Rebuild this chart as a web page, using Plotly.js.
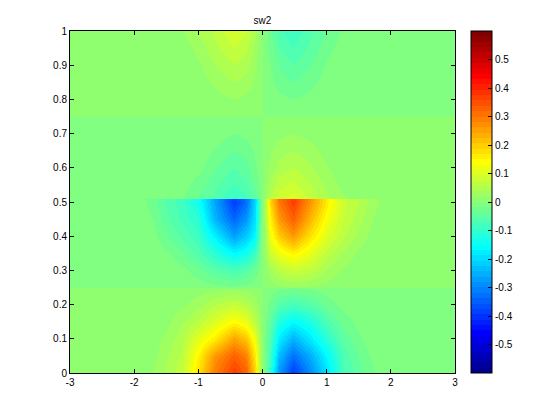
<!DOCTYPE html>
<html>
<head>
<meta charset="utf-8">
<script src="https://cdn.plot.ly/plotly-3.0.1.min.js"></script>
<style>html,body{margin:0;padding:0;background:#fff}</style>
</head>
<body>
<div id="chart" style="width:560px;height:419px"></div>
<script>
const titleText = 'sw2';
const xValues = [-3,-1.85,-1.7,-1.5,-1.25,-1,-0.75,-0.45,-0.25,-0.12,-0.02,0.02,0.12,0.25,0.47,0.75,1,1.25,1.5,1.7,1.85,3];
const yValues = [0,0.05,0.1,0.15,0.2,0.2499,0.2501,0.3,0.35,0.4,0.45,0.5,0.5079,0.5081,0.55,0.6,0.65,0.7,0.7499,0.7501,0.8,0.85,0.9,0.95,1];
const row000 = [.005,.005,.02,.04,.07,.17,.29,.37,.33,.19,.02,-.01,-.1,-.28,-.39,-.29,-.19,-.08,-.045,-.025,-.005,-.005];
const row005 = [.005,.005,.012,.035,.06,.15,.26,.33,.29,.16,.02,-.01,-.08,-.24,-.33,-.25,-.16,-.07,-.035,-.015,-.005,-.005];
const row010 = [.005,.005,.007,.025,.05,.11,.16,.25,.21,.12,.02,-.01,-.065,-.18,-.25,-.18,-.11,-.05,-.022,-.008,-.005,-.005];
const row015 = [.005,.005,.005,.012,.035,.06,.1,.145,.12,.06,.015,-.008,-.045,-.125,-.165,-.125,-.07,-.03,-.012,-.005,-.005,-.005];
const row020 = [.005,.005,.005,.007,.015,.03,.055,.075,.055,.03,.01,-.005,-.025,-.06,-.08,-.06,-.03,-.012,-.005,-.005,-.005,-.005];
const row025a = [.005,.005,.005,.005,.005,.008,.012,.015,.012,.008,.006,-.005,-.008,-.015,-.02,-.015,-.008,-.005,-.005,-.005,-.005,-.005];
const row025b = [-.005,-.005,-.005,-.005,-.005,-.007,-.012,-.018,-.012,-.008,-.005,.005,.008,.014,.02,.015,.01,.006,.005,.005,.005,.005];
const row030 = [-.005,-.005,-.005,-.006,-.012,-.03,-.055,-.075,-.06,-.03,-.008,.008,.03,.06,.08,.065,.035,.016,.007,.005,.005,.005];
const row035 = [-.005,-.005,-.006,-.014,-.035,-.065,-.11,-.165,-.14,-.09,-.012,.012,.08,.12,.155,.11,.065,.035,.014,.006,.005,.005];
const row040 = [-.005,-.005,-.012,-.035,-.06,-.09,-.17,-.27,-.22,-.16,-.015,.015,.12,.2,.26,.17,.1,.06,.03,.012,.005,.005];
const row045 = [-.005,-.007,-.02,-.05,-.08,-.11,-.24,-.34,-.28,-.19,-.02,.02,.15,.26,.33,.22,.13,.075,.045,.02,.007,.005];
const row050a = [-.005,-.015,-.03,-.06,-.085,-.14,-.26,-.39,-.33,-.2,-.02,.02,.18,.3,.37,.26,.16,.08,.055,.03,.015,.005];
const row050b = [-.005,-.015,-.03,-.06,-.085,-.14,-.26,-.39,-.33,-.2,-.02,.02,.18,.3,.37,.26,.16,.08,.055,.03,.015,.005];
const row050c = [-.005,-.005,-.005,-.008,-.018,-.0375,-.06,-.1,-.08,-.05,-.01,.01,.06,.085,.105,.07,.042,.022,.005,.005,.005,.005];
const row055 = [-.005,-.005,-.005,-.005,-.01,-.028,-.05,-.077,-.06,-.035,-.008,.008,.04,.07,.08,.055,.032,.012,.005,.005,.005,.005];
const row060 = [-.005,-.005,-.005,-.005,-.005,-.012,-.035,-.056,-.045,-.022,-.006,.006,.025,.045,.058,.04,.02,.005,.005,.005,.005,.005];
const row065 = [-.005,-.005,-.005,-.005,-.005,-.005,-.02,-.038,-.03,-.015,-.005,.005,.015,.03,.038,.027,.01,.005,.005,.005,.005,.005];
const row070 = [-.005,-.005,-.005,-.005,-.005,-.005,-.008,-.019,-.014,-.008,-.005,.005,.008,.014,.019,.012,.005,.005,.005,.005,.005,.005];
const row075a = [-.005,-.005,-.005,-.005,-.005,-.005,-.005,-.005,-.005,-.005,-.005,.005,.005,.005,.005,.005,.005,.005,.005,.005,.005,.005];
const row075b = [.005,.005,.005,.005,.005,.005,.005,.005,.005,.005,.005,-.005,-.005,-.005,-.005,-.005,-.005,-.005,-.005,-.005,-.005,-.005];
const row080 = [.005,.005,.005,.005,.005,.005,.01,.019,.014,.008,.005,-.005,-.007,-.013,-.019,-.012,-.005,-.005,-.005,-.005,-.005,-.005];
const row085 = [.005,.005,.005,.005,.005,.007,.022,.038,.03,.015,.005,-.005,-.013,-.028,-.038,-.025,-.009,-.005,-.005,-.005,-.005,-.005];
const row090 = [.005,.005,.005,.005,.005,.015,.035,.056,.045,.022,.005,-.005,-.018,-.04,-.056,-.038,-.016,-.005,-.005,-.005,-.005,-.005];
const row095 = [.005,.005,.005,.005,.008,.025,.05,.075,.06,.03,.005,-.005,-.025,-.055,-.075,-.05,-.025,-.01,-.005,-.005,-.005,-.005];
const row100 = [.005,.005,.005,.005,.017,.038,.06,.095,.075,.04,.005,-.005,-.03,-.07,-.09,-.06,-.035,-.015,-.005,-.005,-.005,-.005];
const zRows = [row000,row005,row010,row015,row020,row025a,row025b,row030,row035,row040,row045,row050a,row050b,row050c,row055,row060,row065,row070,row075a,row075b,row080,row085,row090,row095,row100];
const xTicks = [-3,-2,-1,0,1,2,3];
const xTickText = ['-3','-2','-1','0','1','2','3'];
const yTicks = [0,0.1,0.2,0.3,0.4,0.5,0.6,0.7,0.8,0.9,1];
const yTickText = ['0','0.1','0.2','0.3','0.4','0.5','0.6','0.7','0.8','0.9','1'];
const barTicks = [-0.5,-0.4,-0.3,-0.2,-0.1,0,0.1,0.2,0.3,0.4,0.5];
const barTickText = ['-0.5','-0.4','-0.3','-0.2','-0.1','0','0.1','0.2','0.3','0.4','0.5'];
const zMin = -0.6, zMax = 0.6;

// MATLAB jet(64) as a stepped colour scale
function jetStep(i){
  const v = (i+1)/16;
  const clamp = t => Math.max(0,Math.min(1,t));
  const r = clamp(Math.min(v-1.5, 4.5-v));
  const g = clamp(Math.min(v-0.5, 3.5-v));
  const b = clamp(Math.min(v+0.5, 2.5-v));
  return 'rgb('+Math.round(r*255)+','+Math.round(g*255)+','+Math.round(b*255)+')';
}
const jetScale = [];
for(let i=0;i<64;i++){
  jetScale.push([i/64, jetStep(i)]);
  jetScale.push([(i+1)/64, jetStep(i)]);
}

const font = {family:'"Liberation Sans", Arial, sans-serif', size:10, color:'#000'};
const axisBase = {showgrid:false, zeroline:false, showline:true, linecolor:'#000', linewidth:1,
  mirror:'ticks', ticks:'inside', ticklen:4, tickcolor:'#000', tickwidth:1, tickfont:font};

const trace = {
  type:'heatmap', x:xValues, y:yValues, z:zRows,
  zmin:zMin, zmax:zMax, zsmooth:'best', colorscale:jetScale, hoverinfo:'skip',
  colorbar:{x:(471-70)/385, xref:'paper', xanchor:'left', xpad:0, ypad:0, thickness:21, len:1,
    outlinecolor:'#000', outlinewidth:1, tickmode:'array', tickvals:barTicks, ticktext:barTickText,
    ticks:'inside', ticklen:4, tickcolor:'#000', tickwidth:1, tickfont:font}
};
const barLeft = (471-70)/385;
const barShapes = barTicks.map(t => ({type:'line', xref:'paper', yref:'paper',
  x0:barLeft, x1:barLeft+4/385, y0:(t-zMin)/(zMax-zMin), y1:(t-zMin)/(zMax-zMin),
  line:{color:'#000', width:1}}));

Plotly.newPlot('chart',[trace],{
  width:560, height:419, paper_bgcolor:'#fff', plot_bgcolor:'#fff', font:font,
  margin:{l:70,r:105,t:31,b:46},
  title:{text:titleText, font:font, x:(70+192.5)/560, xanchor:'center', y:1-20/419, yanchor:'middle'},
  xaxis:Object.assign({},axisBase,{range:[-3,3], tickmode:'array', tickvals:xTicks, ticktext:xTickText}),
  yaxis:Object.assign({},axisBase,{range:[0,1], tickmode:'array', tickvals:yTicks, ticktext:yTickText}),
  shapes:barShapes
},{displayModeBar:false, staticPlot:true});
</script>
</body>
</html>
